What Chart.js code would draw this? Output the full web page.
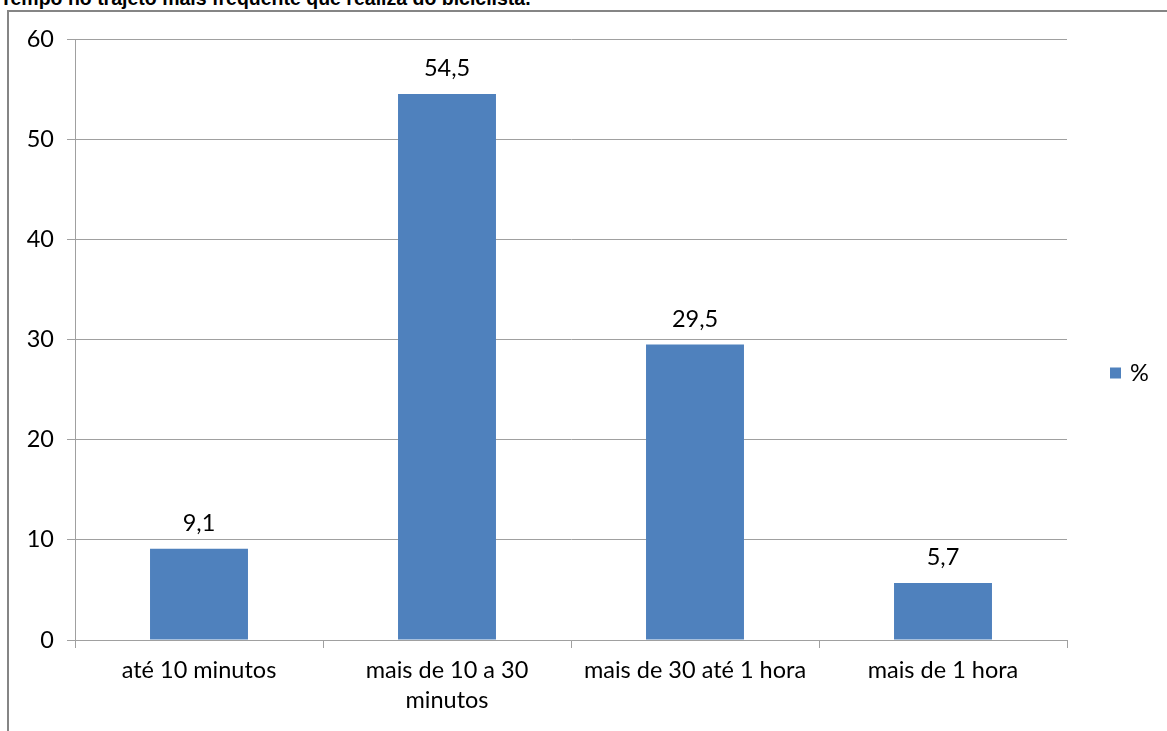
<!DOCTYPE html>
<html>
<head>
<meta charset="utf-8">
<script src="https://cdn.jsdelivr.net/npm/chart.js@4"></script>
<style>
  html, body { margin: 0; padding: 0; background: #fff; width: 1167px; height: 731px; overflow: hidden; }
  #title { position: absolute; left: 0; top: -12px; font: bold 19.5px "Liberation Sans", Arial, sans-serif; line-height: 20px; color: #000; white-space: nowrap; }
  #frame { position: absolute; left: 7px; top: 10px; width: 1200px; height: 800px; border-left: 2px solid #858585; border-top: 2px solid #858585; }
  #c { position: absolute; left: 0; top: 0; }
</style>
</head>
<body>
<div id="title">Tempo no trajeto mais frequente que realiza do biciclista.</div>
<div id="frame"></div>
<canvas id="c" width="1167" height="731"></canvas>
<script>
const categories = ['até 10 minutos', ['mais de 10 a 30', 'minutos'], 'mais de 30 até 1 hora', 'mais de 1 hora'];
const seriesName = '%';
const values = [9.1, 54.5, 29.5, 5.7];
const yTicks = { min: 0, max: 60, step: 10 };

const FONT = 'Lato, "Open Sans", sans-serif';
const FSIZE = 23.5;
const BAR = '#4F81BD';
const GRID = '#a0a0a0';

const fmt = v => String(v).replace('.', ',');

const valueLabels = {
  id: 'valueLabels',
  afterDatasetsDraw(chart) {
    const ctx = chart.ctx;
    const meta = chart.getDatasetMeta(0);
    ctx.save();
    ctx.font = FSIZE + 'px ' + FONT;
    ctx.fillStyle = '#000';
    ctx.textAlign = 'center';
    ctx.textBaseline = 'alphabetic';
    meta.data.forEach((bar, i) => {
      ctx.fillText(fmt(chart.data.datasets[0].data[i]), bar.x, bar.y - 18);
    });
    ctx.restore();
  }
};

const sideLegend = {
  id: 'sideLegend',
  afterDraw(chart) {
    const ctx = chart.ctx;
    const ds = chart.data.datasets[0];
    const x = chart.chartArea.right + 43;
    const y = chart.height / 2 + 8;
    ctx.save();
    ctx.fillStyle = ds.backgroundColor;
    ctx.fillRect(x, y - 6, 11, 11);
    ctx.font = FSIZE + 'px ' + FONT;
    ctx.fillStyle = '#000';
    ctx.textAlign = 'left';
    ctx.textBaseline = 'middle';
    ctx.fillText(ds.label, x + 20, y);
    ctx.restore();
  }
};

new Chart(document.getElementById('c'), {
  type: 'bar',
  data: {
    labels: categories,
    datasets: [{
      label: seriesName,
      data: values,
      backgroundColor: BAR,
      borderWidth: 0,
      barPercentage: 0.395,
      categoryPercentage: 1.0
    }]
  },
  options: {
    responsive: false,
    animation: false,
    layout: { padding: { left: 0, right: 100, top: 39, bottom: 0 } },
    plugins: {
      legend: { display: false },
      tooltip: { enabled: false },
      title: { display: false }
    },
    scales: {
      x: {
        afterFit(scale) { scale.height = 91; },
        grid: { drawOnChartArea: false, drawTicks: true, tickLength: 8, color: GRID, offset: true },
        border: { display: true, color: GRID, width: 1 },
        ticks: { color: '#000', font: { family: FONT, size: FSIZE, lineHeight: 1.3 }, padding: 7, maxRotation: 0, autoSkip: false }
      },
      y: {
        min: yTicks.min,
        max: yTicks.max,
        afterFit(scale) { scale.width = 75; },
        grid: { color: GRID, tickLength: 8, drawTicks: true },
        border: { display: true, color: GRID, width: 1 },
        ticks: { stepSize: yTicks.step, color: '#000', font: { family: FONT, size: FSIZE }, padding: 13 }
      }
    }
  },
  plugins: [valueLabels, sideLegend]
});
</script>
</body>
</html>
